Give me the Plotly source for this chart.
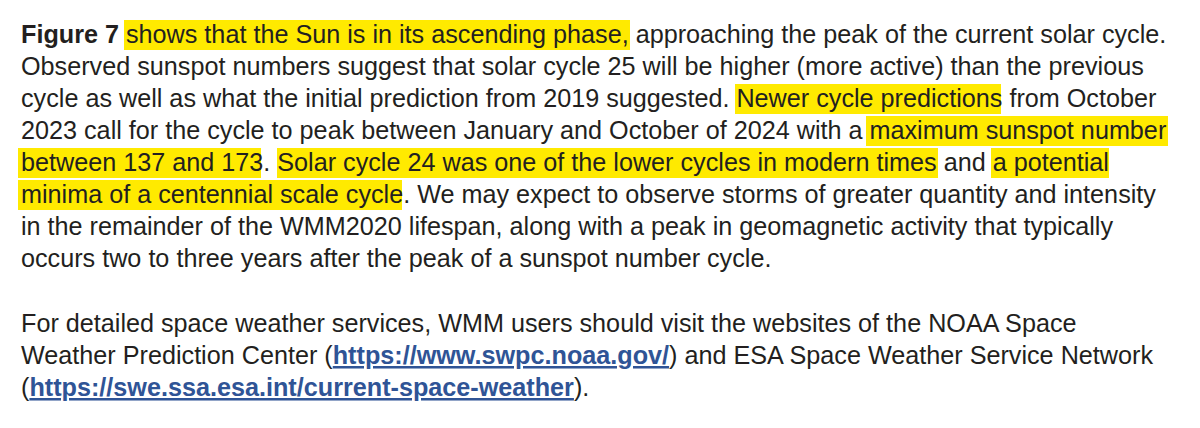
import plotly.graph_objects as go

# paragraph text, one entry per printed line
para1_lines = [
    "<b>Figure 7</b> shows that the Sun is in its ascending phase, approaching the peak of the current solar cycle.",
    "Observed sunspot numbers suggest that solar cycle 25 will be higher (more active) than the previous",
    "cycle as well as what the initial prediction from 2019 suggested. Newer cycle predictions from October",
    "2023 call for the cycle to peak between January and October of 2024 with a maximum sunspot number",
    "between 137 and 173. Solar cycle 24 was one of the lower cycles in modern times and a potential",
    "minima of a centennial scale cycle. We may expect to observe storms of greater quantity and intensity",
    "in the remainder of the WMM2020 lifespan, along with a peak in geomagnetic activity that typically",
    "occurs two to three years after the peak of a sunspot number cycle.",
]
link1 = "https://www.swpc.noaa.gov/"
link2 = "https://swe.ssa.esa.int/current-space-weather"
para2_lines = [
    "For detailed space weather services, WMM users should visit the websites of the NOAA Space",
    "Weather Prediction Center ({L1}) and ESA Space Weather Service Network",
    "({L2}).",
]

# highlighted spans: (line index in paragraph 1, left px, right px)
highlights = [
    (0, 124, 630),
    (2, 735, 1001),
    (3, 866, 1168),
    (4, 18, 261),
    (4, 277, 938),
    (4, 991, 1109),
    (5, 18, 402),
]

W, H = 1200, 428
OFF = 8          # page body margin pushes the plot right/down
LEFT = 20 - OFF - 1
TOP = 35 - OFF
STEP = 32
FONT = "Liberation Sans, Arial, sans-serif"
TXT = "#231f20"
LINK = "#2f5496"
YELLOW = "#ffea00"


def link(u):
    return f"<span style='color:{LINK};text-decoration:underline'><b>{u}</b></span>"


fig = go.Figure()
fig.add_trace(go.Scatter(x=[0, W], y=[0, H], mode="markers", marker=dict(opacity=0),
                         hoverinfo="skip", showlegend=False))

rows = []
for i, t in enumerate(para1_lines):
    rows.append((TOP + i * STEP, t))
y2 = TOP + (len(para1_lines) + 1) * STEP + 1
for i, t in enumerate(para2_lines):
    rows.append((y2 + i * STEP, t.format(L1=link(link1), L2=link(link2))))

for y, t in rows:
    fig.add_annotation(x=LEFT, y=y - 1, text=t, showarrow=False, xanchor="left", yanchor="middle",
                       font=dict(family=FONT, size=25.2, color=TXT))

for li, x0, x1 in highlights:
    yc = TOP + li * STEP
    fig.add_shape(type="rect", x0=x0 - OFF, x1=x1 - OFF, y0=yc - 15, y1=yc + 15, layer="below",
                  line=dict(width=0), fillcolor=YELLOW)

fig.update_layout(
    width=W, height=H, margin=dict(l=0, r=0, t=0, b=0),
    paper_bgcolor="white", plot_bgcolor="white",
    xaxis=dict(range=[0, W], visible=False, fixedrange=True),
    yaxis=dict(range=[H, 0], visible=False, fixedrange=True),
)
fig.write_html("out.html")
